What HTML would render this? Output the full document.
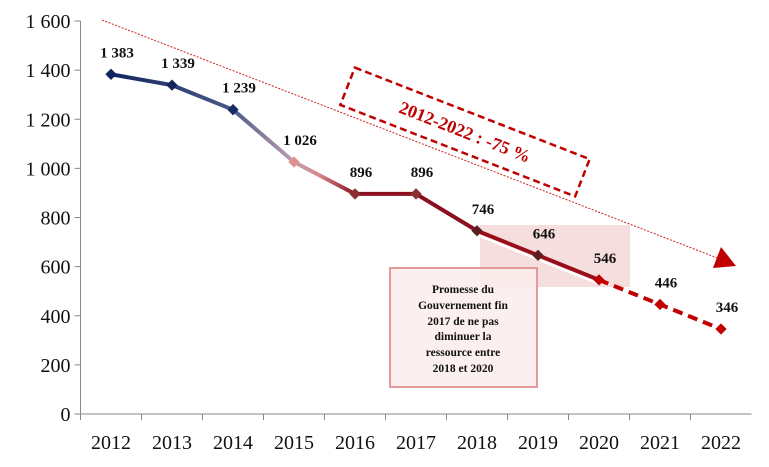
<!DOCTYPE html>
<html><head><meta charset="utf-8"><style>
body{margin:0;background:#fff;}
svg{display:block;font-family:"Liberation Serif",serif;}
</style></head><body>
<svg id="chart" width="769" height="467" viewBox="0 0 769 467">
<defs>
<linearGradient id="g1" gradientUnits="userSpaceOnUse" x1="110" y1="0" x2="355" y2="0">
<stop offset="0" stop-color="#12245e"/><stop offset="0.5" stop-color="#4a5a8a"/><stop offset="0.75" stop-color="#c0a0b0"/><stop offset="0.85" stop-color="#d88a8a"/><stop offset="1" stop-color="#8a1426"/>
</linearGradient>
</defs>
<g id="axes"></g>
<rect x="480" y="225" width="150" height="62" fill="#e8a0a0" opacity="0.35"/>
<g id="series"></g>
<line x1="102" y1="20" x2="720" y2="259" stroke="#d02020" stroke-width="1" stroke-dasharray="2,1.5"/>
<polygon points="736,266 713,268 721,247" fill="#c00000"/>
<g transform="translate(465,132) rotate(21.3)">
<rect x="-126" y="-20" width="252" height="40" fill="none" stroke="#c00000" stroke-width="2.5" stroke-dasharray="7,4"/>
<text x="0" y="6" text-anchor="middle" font-size="18" font-weight="bold" fill="#c00000">2012-2022 : -75 %</text>
</g>
<g>
<rect x="390" y="268" width="147" height="119" fill="#fbecec" fill-opacity="0.85" stroke="#e49a9a" stroke-width="2"/>
<text font-size="11.5" font-weight="bold" text-anchor="middle" fill="#111">
<tspan x="463" y="293">Promesse du</tspan><tspan x="463" y="309">Gouvernement fin</tspan><tspan x="463" y="325">2017 de ne pas</tspan><tspan x="463" y="340">diminuer la</tspan><tspan x="463" y="356">ressource entre</tspan><tspan x="463" y="372">2018 et 2020</tspan></text>
</g>
<g id="labels"></g>
</svg>
<script>
const categories=["2012","2013","2014","2015","2016","2017","2018","2019","2020","2021","2022"];
const values=[1383,1339,1239,1026,896,896,746,646,546,446,346];
const valueLabels=["1 383","1 339","1 239","1 026","896","896","746","646","546","446","346"];
const yTicks=[0,200,400,600,800,1000,1200,1400,1600];
const yTickLabels=["0","200","400","600","800","1 000","1 200","1 400","1 600"];
const NS="http://www.w3.org/2000/svg";
const x0=80.5,cw=61,yb=414,yt=21;
const X=i=>x0+cw*(i+0.5);
const Y=v=>yb-(v/1600)*(yb-yt);
function mk(t,a,p){const e=document.createElementNS(NS,t);for(const k in a)e.setAttribute(k,a[k]);(p||document.getElementById('chart')).appendChild(e);return e;}
const ax=document.getElementById('axes');
let e=mk('line',{x1:x0,y1:yt,x2:x0,y2:yb,stroke:'#888','stroke-width':1},ax);


e=mk('line',{x1:x0,y1:yb,x2:x0+cw*categories.length,y2:yb,stroke:'#888','stroke-width':1},ax);


yTicks.forEach((v,i)=>{
 mk('line',{x1:x0-6,y1:Y(v),x2:x0,y2:Y(v),stroke:'#888'},ax);
 const t=mk('text',{x:x0-10,y:Y(v)+7,'text-anchor':'end','font-size':20,fill:'#111'},ax);t.textContent=yTickLabels[i];
 
 
});
categories.forEach((c,i)=>{
 mk('line',{x1:x0+cw*i,y1:yb,x2:x0+cw*i,y2:yb+6,stroke:'#888'},ax);
 const t=mk('text',{x:X(i),y:yb+35,'text-anchor':'middle','font-size':20,fill:'#111'},ax);t.textContent=c;
 
 
});
const s=document.getElementById('series');
const pts=values.map((v,i)=>[X(i),Y(v)]);
const P=a=>a.map(p=>p.join(',')).join(' ');
e=mk('polyline',{points:P(pts.slice(0,5)),fill:'none',stroke:'url(#g1)','stroke-width':4,'stroke-linejoin':'round'},s);


e=mk('polyline',{points:P(pts.slice(4,7)),fill:'none',stroke:'#8a1020','stroke-width':4},s);


e=mk('polyline',{points:P(pts.slice(6,9).map(p=>[p[0],p[1]+4])),fill:'none',stroke:'#fff','stroke-width':2.5},s);


e=mk('polyline',{points:P(pts.slice(6,9)),fill:'none',stroke:'#9a0e1c','stroke-width':4},s);


e=mk('polyline',{points:P(pts.slice(8)),fill:'none',stroke:'#c00000','stroke-width':4,'stroke-dasharray':'10,6'},s);


const mcol=['#12245e','#12245e','#1a2a60','#e09090','#8a3030','#8a3030','#5a2020','#5a2020','#c00000','#c00000','#c00000'];
const lb=document.getElementById('labels');
pts.forEach((p,i)=>{
 const m=mk('rect',{x:p[0]-4,y:p[1]-4,width:8,height:8,fill:mcol[i],transform:`rotate(45 ${p[0]} ${p[1]})`},s);
 
 
 const t=mk('text',{x:p[0]+6,y:p[1]-17,'text-anchor':'middle','font-size':15,'font-weight':'bold',fill:'#111'},lb);t.textContent=valueLabels[i];
 
 
});
</script>
</body></html>
